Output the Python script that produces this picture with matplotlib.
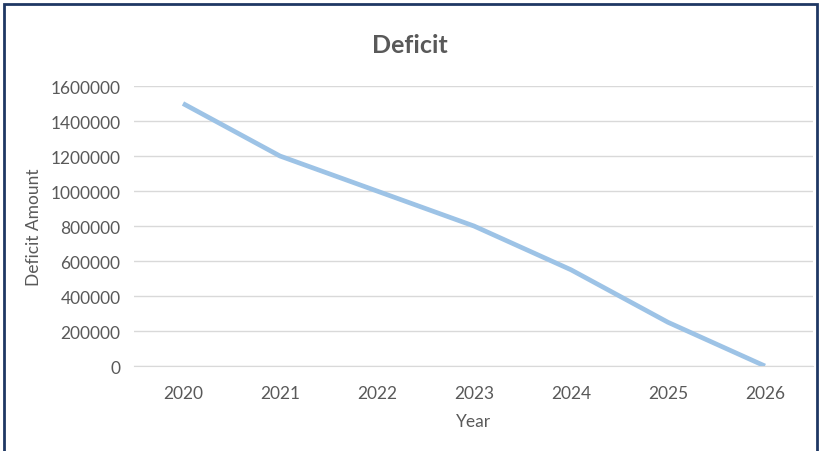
import matplotlib.pyplot as plt
from matplotlib.patches import Rectangle

# --- data ---
years = ["2020", "2021", "2022", "2023", "2024", "2025", "2026"]
deficit = [1500000, 1200000, 1000000, 800000, 550000, 250000, 0]
y_ticks = [0, 200000, 400000, 600000, 800000, 1000000, 1200000, 1400000, 1600000]

plt.rcParams['font.family'] = ['Lato', 'DejaVu Sans']
grey = "#595959"

fig = plt.figure(figsize=(8.2, 4.52), dpi=100)
ax = fig.add_axes([0.164, 0.188, 0.828, 0.6195])

x = range(len(years))
ax.plot(x, deficit, color="#9DC3E6", linewidth=3.4, solid_capstyle="butt", zorder=3)

ax.set_xlim(-0.5, len(years) - 0.5)
ax.set_ylim(0, 1600000)
ax.set_yticks(y_ticks)
ax.set_yticklabels([str(v) for v in y_ticks])
ax.set_xticks(list(x))
ax.set_xticklabels(years)
ax.grid(axis="y", color="#D9D9D9", linewidth=1)
ax.set_axisbelow(True)
for s in ax.spines.values():
    s.set_visible(False)
ax.spines["bottom"].set_visible(True)
ax.spines["bottom"].set_color("#D9D9D9")
ax.tick_params(length=0, colors=grey, labelsize=12.5)
ax.tick_params(axis="x", pad=14)
ax.tick_params(axis="y", pad=10)

ax.set_xlabel("Year", color=grey, fontsize=12.5, labelpad=8)
ax.set_ylabel("Deficit Amount", color=grey, fontsize=12.5, labelpad=6)
fig.text(0.5, 0.9, "Deficit", ha="center", va="center", color=grey,
         fontsize=18, fontweight="bold")

# dark frame around the chart, bottom edge runs off the image
fig.patches.append(Rectangle((4 / 820, -0.05), 813 / 820, 1 - 5 / 452 + 0.05,
                             transform=fig.transFigure, fill=False,
                             edgecolor="#1F3864", linewidth=2))

fig.savefig("out.png", dpi=100)
